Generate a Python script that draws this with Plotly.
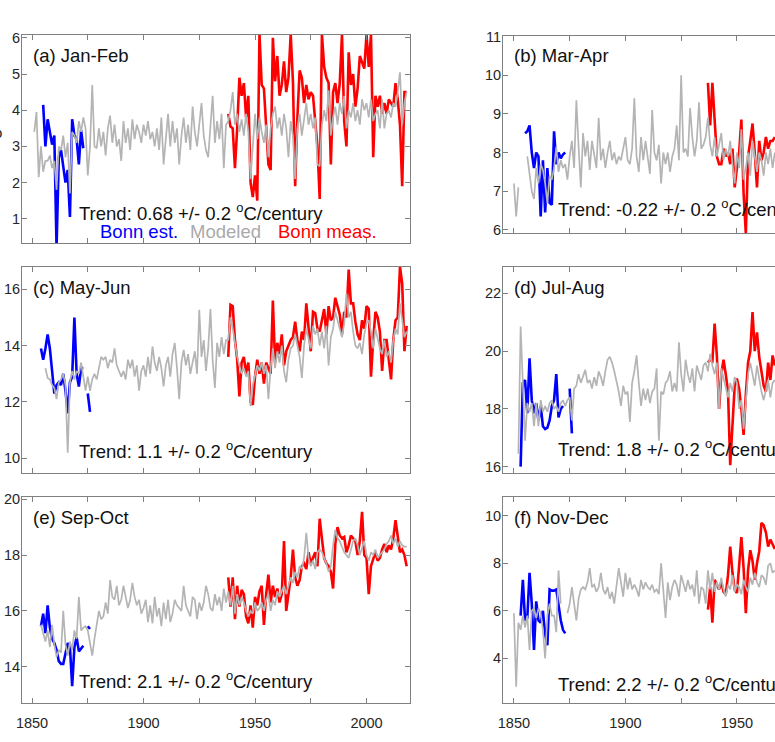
import plotly.graph_objects as go

N = None
YEARS_MOD = list(range(1850, 2019))
YEARS_EST = list(range(1852, 1877))
YEARS_MEAS = list(range(1937, 2019))

# ---------------- (a) Jan-Feb ----------------
mod_a = [N, 3.4, 3.95, 2.15, 3.0, 2.3, 2.6, 2.6, 2.75, 2.4,
         2.6, 1.8, 3.0, 2.9, 3.3, 2.7, 3.1, 1.7, 3.4, 3.3,
         3.1, 3.7, 3.4, 3.8, 3.5, 2.2, 3.0, 4.7, 3.0, 2.95,
         3.5, 3.0, 3.4, 2.75, 3.5, 3.85, 3.1, 3.6, 3.0, 3.2,
         2.6, 3.7, 3.1, 3.5, 2.9, 3.75, 3.2, 3.6, 3.4, 3.1,
         3.6, 3.3, 3.7, 3.2, 3.4, 3.0, 3.5, 2.9, 3.8, 2.5,
         3.2, 3.9, 3.0, 3.7, 3.1, 3.5, 2.5, 3.3, 3.8, 3.1,
         3.6, 2.9, 4.1, 3.4, 3.0, 3.6, 4.2, 3.3, 2.9, 2.7,
         3.5, 4.4, 3.1, 3.7, 3.2, 3.9, 2.4, 3.6,
         3.7, 4.0, 4.5, 3.6, 3.9, 3.4, 3.75, 3.3, 3.9, 3.4,
         2.1, 3.0, 3.9, 3.2, 3.8, 3.4, 3.1, 3.6, 2.7, 3.5,
         3.9, 4.1, 3.5, 3.8, 3.3, 3.9, 3.5, 2.7, 3.7, 3.3,
         2.1, 3.5, 3.9, 3.3, 3.7, 4.2, 3.6, 3.9, 3.5, 3.8,
         2.5, 2.45, 3.6, 4.0, 3.7, 4.55, 3.3, 3.8, 4.1, 3.6,
         4.2, 3.9, 4.4, 3.5, 4.0, 3.8, 4.2, 3.7, 4.0, 3.6,
         4.3, 4.0, 4.2, 3.8, 4.3, 3.7, 3.9, 4.0, 3.5, 4.3,
         3.5, 3.9, 4.0, 3.8, 4.2, 4.1, 4.5, 5.05, 3.6, 4.2, 4.5]
est_a = [N, N, N, 4.15, 3.0, 3.75, 3.4, 3.05, 3.3, 0.2,
         2.7, 2.9, 2.45, 2.0, 2.35, 1.05, 3.75, 3.3, 3.2, 2.5,
         3.45, 2.95, N, N, N]
meas_a = [N, 3.9, 3.55, 3.5, 2.4, 3.5, 4.9, 4.4, 4.75, 3.8,
          4.4, 2.0, 1.6, 2.2, 1.5, 6.1, 4.7, 4.6, 3.5, 2.5,
          2.35, 6.0, 4.8, 5.5, 4.4, 4.7, 5.35, 4.5, 4.9, 6.1,
          4.8, 1.9, 3.8, 5.1, 4.9, 4.2, 4.7, 4.3, 4.5, 4.4,
          3.7, 3.0, 1.55, 6.1, 5.2, 4.9, 4.75, 2.5, 4.5, 4.75,
          4.2, 4.75, 6.1, 3.7, 3.0, 5.6, 4.7, 5.0, 4.1, 4.6,
          5.5, 5.3, 5.15, 6.1, 5.2, 6.1, 2.7, 4.4, 4.1, 4.4,
          3.9, 4.2, 3.9, 4.3, 4.2, 4.1, 4.75, 4.3, 3.6, 1.9,
          4.5, 4.5]

# ---------------- (b) Mar-Apr ----------------
mod_b = [7.2, 6.35, 7.1, N, N, N, 7.9, 7.5, 7.0, 6.8,
         7.6, 7.2, 7.7, 7.55, 7.2, 6.7, 7.4, 7.3, 7.6, 8.15,
         7.5, 7.8, 7.6, 7.7, 7.3, 7.9, 8.3, 7.6, 9.35, 8.15,
         7.1, 8.5, 7.9, 8.3, 7.55, 8.3, 8.0, 7.6, 8.9, 7.8,
         8.1, 7.6, 8.0, 8.3, 7.8, 8.0, 7.7, 7.9, 7.8, 8.1,
         8.4, 7.8, 7.7, 8.1, 9.4, 7.9, 7.5, 8.4, 7.8, 8.3,
         7.9, 7.45, 9.1, 8.0, 7.8, 8.2, 7.2, 8.0, 7.7, 8.0,
         7.5, 7.9, 8.1, 8.7, 7.8, 10.0, 8.0, 8.1, 7.9, 9.15,
         8.4, 7.9, 8.3, 9.3, 8.1, 8.2, 8.4, 8.9, 8.2, 7.9,
         8.4, 7.9, 8.2, 8.5, 7.8, 8.1, 7.9, 8.3, 7.7, 7.2,
         8.0, 7.6, 8.6, 7.3, 7.6, 8.0, 7.4, 8.3, 7.9, 7.5,
         8.0, 7.8, 7.4, 8.0, 7.7, 8.1, 7.6, 8.0]
est_b = [N, N, N, 8.5, 8.55, 8.7, 8.0, 7.6, 8.0, 7.9,
         6.35, 7.8, 6.45, 7.6, 6.7, 6.65, 8.55, 7.7, 8.0, 7.85,
         7.95, 8.0, N, N, N]
meas_b = [9.8, 8.7, 9.8, 8.7, 7.9, 7.7, 7.7, 8.1, 7.9, 8.0,
          7.7, 8.1, 7.1, 7.6, 8.0, 8.85, 6.95, 5.9, 7.9, 8.3,
          8.75, 8.0, 7.1, 8.3, 7.8, 8.0, 8.4, 8.1, 8.3, 8.3, 8.4]

# ---------------- (c) May-Jun ----------------
mod_c = [N, N, N, N, N, N, 13.2, 12.85, 12.8, 12.6,
         12.5, 12.1, 12.7, 12.8, 13.0, 12.6, 10.2, 12.7, 13.1, 12.8,
         13.1, 13.0, 13.4, 12.8, 12.4, 12.9, 12.4, 12.8, 13.0, 12.8,
         13.2, 13.6, 13.5, 13.6, 13.2, 13.5, 13.4, 13.9, 13.3, 13.1,
         12.9, 13.1, 12.8, 13.5, 13.2, 13.5, 12.9, 13.3, 12.4, 13.1,
         13.3, 12.9, 13.6, 13.0, 13.97, 13.4, 13.1, 13.6, 13.2, 12.55,
         13.3, 13.6, 12.9, 13.7, 14.1, 13.2, 12.1, 13.4, 13.85, 13.3,
         13.7, 13.0, 13.4, 13.8, 13.0, 15.27, 13.6, 14.2, 13.1, 13.9,
         15.3, 13.5, 12.5, 14.1, 13.6, 14.3, 13.7, 14.2,
         14.2, 15.0, 14.6, 14.0, 13.6, 13.3, 13.0, 13.2, 12.9, 13.1,
         11.85, 12.6, 13.0, 13.3, 13.1, 13.4, 13.0, 13.3, 12.1, 13.2,
         13.9, 13.2, 13.8, 13.4, 14.0, 13.1, 12.7, 13.5, 13.9, 14.0,
         14.4, 14.0, 13.6, 12.85, 14.0, 14.6, 14.2, 13.9, 14.7, 14.4,
         14.6, 14.0, 14.5, 13.9, 14.7, 13.3, 14.3, 14.6, 15.2, 14.9,
         14.6, 14.3, 14.8, 15.85, 15.0, 15.2, 14.5, 14.0, 13.9, 14.1,
         13.7, 14.4, 14.8, 14.9, 14.5, 13.9, 14.6, 14.2, 13.9, 13.7,
         14.2, 13.6, 13.8, 13.4, 14.2, 14.6, 14.4, 15.5, 14.9, 14.3, 14.5]
est_c = [N, N, 13.9, 13.5, 13.9, 14.4, 13.9, 13.2, 12.3, 12.6,
         12.7, 12.6, 13.0, 12.4, 11.6, 12.7, 12.9, 15.0, 13.0, 12.55,
         13.2, 13.2, N, 12.3, 11.65]
meas_c = [N, 13.6, 15.45, 15.4, 14.2, 13.5, 12.2, 13.4, 13.6, 13.0,
          13.4, 12.0, 11.9, 12.9, 13.5, 13.0, 13.4, 12.65, 13.4, 13.2,
          13.0, 15.6, 13.4, 14.1, 13.7, 14.4, 13.3, 13.8, 14.0, 14.2,
          14.3, 14.85, 14.2, 13.8, 14.5, 14.2, 15.5, 14.6, 13.8, 15.2,
          15.15, 14.6, 14.5, 14.9, 15.3, 14.4, 15.4, 14.9, 15.0, 15.7,
          15.4, 15.1, 14.4, 15.2, 15.0, 16.7, 15.5, 15.5, 14.85, 14.4,
          14.2, 14.9, 14.6, 15.4, 15.3, 12.9, 14.2, 15.2, 15.0, 14.5,
          13.1, 14.2, 14.2, 13.5, 12.8, 14.2, 14.9, 15.0, 16.8, 16.2,
          13.8, 14.7]

# ---------------- (d) Jul-Aug ----------------
mod_d = [N, N, 16.45, 20.85, 18.9, 16.9, 18.2, 17.9, 18.2, 17.4,
         18.2, 17.4, 18.3, 17.9, 18.1, 17.9, 18.2, 18.3, 18.0, 18.1,
         17.9, 18.2, 18.3, 18.1, 18.3, 18.4, 17.6, 18.7, 18.8, 19.2,
         18.9, 19.1, 19.35, 18.9, 19.0, 18.7, 19.1, 18.8, 19.3, 19.1,
         18.8, 19.3, 19.7, 19.8, 19.6, 19.3, 19.0, 18.6, 18.1, 18.8,
         18.5, 18.6, 17.55, 18.9, 19.3, 19.85, 18.9, 18.1, 18.7, 18.3,
         18.7, 18.2, 18.6, 18.7, 19.4, 16.9, 18.6, 18.5, 18.9, 19.0,
         19.3, 18.6, 18.9, 18.6, 20.3, 19.2, 18.6, 19.7, 19.2, 18.9,
         19.4, 18.6, 19.5, 19.2, 19.0, 19.5, 19.6, 19.3, 19.9, 19.5,
         19.2, 19.6, 18.0, 19.4, 19.1, 18.7, 18.4, 18.9, 18.6, 19.1,
         18.9, 18.0, 18.3, 17.3, 18.4, 19.2, 19.6, 19.2, 18.8, 19.5,
         19.0, 18.6, 18.3, 18.6, 19.0, 18.4, 18.9, 19.0]
est_d = [N, 16.0, 18.9, 19.0, 17.85, 19.75, 18.3, 17.85, 18.2, 17.6,
         18.1, 17.4, 17.3, 17.35, 17.6, 18.1, 18.3, 19.2, 17.7, 18.0,
         18.1, N, N, 18.7, 17.15]
meas_d = [19.6, 19.7, 19.65, 20.95, 19.85, 18.0, 19.2, 19.7, 19.2, 18.6,
          16.05, 17.55, 18.8, 19.05, 18.7, 18.0, 17.1, 18.5, 19.6, 20.0,
          21.35, 20.0, 20.65, 19.8, 19.2, 18.8, 18.6, 19.6, 19.0, 19.85, 19.5]

# ---------------- (e) Sep-Oct ----------------
mod_e = [N, N, N, N, 15.5, 15.2, 14.9, 15.3, 14.7, 15.5,
         14.8, 14.35, 14.6, 14.5, 16.0, 14.8, 14.4, 14.9, 14.6, 15.3,
         15.0, 16.5, 15.3, 15.4, 15.45, 15.3, 14.9, 14.4, 15.0, 15.55,
         16.0, 15.7, 15.8, 16.3, 15.9, 17.1, 16.5, 16.4, 16.9, 16.2,
         16.4, 16.9, 16.5, 16.1, 16.4, 17.0, 16.5, 16.2, 16.4, 15.9,
         16.1, 16.4, 15.6, 16.2, 15.55, 16.5, 15.8, 16.1, 15.45, 16.3,
         15.7, 16.4, 15.6, 15.9, 16.4, 16.2, 16.1, 16.0, 16.9, 16.2,
         16.0, 15.8, 16.5, 16.4, 15.7, 16.3, 16.0, 16.3, 16.9, 16.6,
         16.1, 16.0, 16.6, 16.2, 16.5, 16.0, 16.8, 16.3,
         16.7, 16.2, 16.9, 15.9, 16.6, 16.2, 16.5, 16.3, 16.0, 15.8,
         16.0, 15.9, 16.3, 16.0, 16.1, 16.3, 16.0, 16.4, 16.6, 16.0,
         16.4, 16.2, 16.7, 16.5, 16.7, 16.9, 16.6, 16.9, 17.2, 17.0,
         17.4, 17.2, 17.6, 17.5, 17.9, 18.8, 17.9, 17.6, 17.8, 17.5,
         18.1, 18.2, 18.1, 17.9, 17.7, 17.4, 17.6, 18.35, 18.9, 18.6,
         18.5, 18.3, 18.1, 18.0, 17.9, 18.2, 18.5, 18.6, 18.35, 18.0,
         18.3, 18.5, 18.0, 17.8, 18.1, 18.0, 18.2, 17.9, 18.0, 18.1,
         18.2, 18.4, 18.5, 18.7, 18.4, 18.6, 18.3, 18.5, 18.35, 18.3, 18.3]
est_e = [N, N, 15.45, 15.9, 15.2, 16.2, 15.4, 15.0, 14.85, 14.6,
         14.2, 14.1, 14.1, 14.5, 14.85, 14.7, 13.3, 14.7, 15.05, 14.55,
         14.65, 14.75, N, 15.45, 15.35]
meas_e = [N, 17.2, 16.15, 17.2, 15.7, 16.9, 16.15, 16.75, 16.6, 15.8,
          15.55, 16.2, 15.4, 16.5, 16.2, 16.7, 16.9, 15.5, 16.6, 17.3,
          16.3, 16.9, 16.5, 16.8, 16.3, 16.6, 18.5, 16.0, 16.7, 17.2,
          18.2, 17.2, 16.9, 17.1, 17.6, 17.7, 17.5, 18.1, 17.7, 17.9,
          18.1, 17.6, 19.3, 18.6, 17.9, 17.7, 17.6, 17.4, 16.8, 18.4,
          19.0, 18.7, 18.6, 18.65, 18.1, 18.35, 18.7, 18.6, 18.5, 18.0,
          18.5, 19.55, 18.0, 17.9, 16.6, 17.6, 17.9, 18.1, 17.8, 17.9,
          18.2, 18.4, 18.1, 18.35, 18.2, 18.6, 19.25, 18.6, 18.1, 18.2,
          18.0, 17.6]

# ---------------- (f) Nov-Dec ----------------
mod_f = [5.9, 2.8, 5.5, 5.2, 5.8, 5.3, 5.8, 4.35, 6.0, 6.1,
         5.7, 6.1, 5.9, 5.2, 4.0, 5.8, 6.3, 5.8, 5.8, 5.1,
         7.7, 6.3, N, N, 5.9, 6.3, 7.0, 6.3, 5.6, 6.5,
         6.9, 7.0, 6.9, 7.2, 7.8, 7.0, 7.1, 6.8, 7.0, 7.6,
         6.9, 6.7, 7.0, 6.5, 6.8, 6.3, 7.2, 7.8, 7.2, 6.6,
         7.6, 6.9, 7.4, 6.9, 7.1, 6.9, 6.6, 7.3, 6.9, 7.2,
         7.0, 6.9, 7.1, 6.8, 6.9, 6.7, 8.0, 6.9, 5.7, 7.2,
         6.45, 7.0, 7.3, 7.1, 6.6, 7.5, 7.2, 6.8, 7.3, 6.9,
         7.1, 6.6, 7.7, 6.3, 7.0, 6.9, 6.3, 7.7, 6.9, 7.6,
         6.8, 7.2, 6.9, 7.4, 6.9, 6.6, 7.1, 6.9, 7.5, 6.8,
         7.1, 7.0, 6.7, 7.3, 7.0, 6.8, 7.4, 7.1, 7.6, 7.2,
         7.0, 7.5, 7.4, 7.1, 7.9, 8.0, 7.6, 7.7]
est_f = [N, 5.8, 7.3, 5.6, 5.7, 7.6, 6.3, 4.35, 6.4, 5.6,
         5.5, 6.0, 5.0, 4.55, 6.9, 6.85, 6.85, 6.9, 6.2, 5.6,
         5.2, 5.05, N, N, N]
meas_f = [6.05, 7.0, 5.5, 7.3, 7.1, 6.9, 7.2, 6.8, 6.7, 7.5,
          8.7, 7.6, 6.9, 6.75, 7.9, 9.1, 7.8, 5.9, 7.7, 8.55,
          8.1, 7.3, 8.0, 8.5, 9.7, 9.6, 9.3, 8.7, 9.0, 8.8, 8.6]

PANEL_LABELS = ["(a) Jan-Feb", "(b) Mar-Apr", "(c) May-Jun",
                "(d) Jul-Aug", "(e) Sep-Oct", "(f) Nov-Dec"]
TRENDS = ["0.68", "-0.22", "1.1", "1.8", "2.1", "2.2"]
LEGEND_NAMES = ["Bonn est.", "Modeled", "Bonn meas."]
X_TICKS = [1850, 1900, 1950, 2000]
X_MINOR_STEP = 25
Y_TICKS = [[1, 2, 3, 4, 5, 6], [6, 7, 8, 9, 10, 11], [10, 12, 14, 16],
           [16, 18, 20, 22], [14, 16, 18, 20], [4, 6, 8, 10]]
Y_RANGES = [[0.33, 6.08], [5.92, 11.02], [9.48, 16.79],
            [15.78, 22.91], [12.7, 20.08], [2.12, 10.79]]

MODS = [mod_a, mod_b, mod_c, mod_d, mod_e, mod_f]
ESTS = [est_a, est_b, est_c, est_d, est_e, est_f]
MEAS = [meas_a, meas_b, meas_c, meas_d, meas_e, meas_f]

W, H = 775, 742
PX_PER_YR = (410 - 22) / 174.0
# panel boxes in page pixels: (left, right, top, bottom)
BOXES = [(22, 410, 35, 243), (503, 775, 35.7, 233),
         (22, 410, 267, 473), (503, 775, 267, 473),
         (22, 410, 497, 703), (503, 775, 497, 703)]


def px_x(v):
    return v / W


def px_y(v):
    return 1 - v / H


C_EST = "#0000FF"
C_MOD = "#B4B4B4"
C_MEAS = "#FF0000"
AX_COL = "#808080"
TXT = "#262626"
FONT = "Arial, Liberation Sans, sans-serif"
TXT_SIZE = 18.5

fig = go.Figure()
layout = dict(width=W, height=H, margin=dict(l=0, r=0, t=0, b=0, pad=0, autoexpand=False),
              template="none",
              paper_bgcolor="white", plot_bgcolor="white", showlegend=False,
              font=dict(family=FONT, color=TXT))
annotations = []

for i in range(6):
    n = "" if i == 0 else str(i + 1)
    xa, ya = "x" + n, "y" + n
    left, right, top, bottom = BOXES[i]
    right_col = (i % 2 == 1)
    x0 = 1845.5 if not right_col else 1845.1
    x1 = x0 + (right - left) / PX_PER_YR

    ym = MODS[i]
    fig.add_trace(go.Scatter(x=YEARS_EST[:len(ESTS[i])], y=ESTS[i], mode="lines",
                             line=dict(color=C_EST, width=2.6), xaxis=xa, yaxis=ya,
                             connectgaps=False))
    fig.add_trace(go.Scatter(x=YEARS_MEAS[:len(MEAS[i])], y=MEAS[i], mode="lines",
                             line=dict(color=C_MEAS, width=2.6), xaxis=xa, yaxis=ya,
                             connectgaps=False))
    fig.add_trace(go.Scatter(x=YEARS_MOD[:len(ym)], y=ym, mode="lines",
                             line=dict(color=C_MOD, width=1.7), xaxis=xa, yaxis=ya,
                             connectgaps=False))

    layout["xaxis" + n] = dict(
        domain=[px_x(left), px_x(right)], range=[x0, x1], anchor=ya,
        automargin=False,
        showline=True, linecolor=AX_COL, linewidth=1, mirror="ticks",
        ticks="inside", ticklen=5, tickcolor=AX_COL, tickwidth=1,
        tickvals=X_TICKS, showgrid=False, zeroline=False,
        minor=dict(ticks="inside", ticklen=5, tickcolor=AX_COL, tickwidth=1,
                   tick0=1850, dtick=X_MINOR_STEP, showgrid=False),
        ticklabelstandoff=7,
        showticklabels=(i >= 4), tickfont=dict(size=14.5, color=TXT, family=FONT))
    layout["yaxis" + n] = dict(
        domain=[px_y(bottom), px_y(top)], range=Y_RANGES[i], anchor=xa,
        automargin=False,
        showline=True, linecolor=AX_COL, linewidth=1,
        mirror=("ticks" if not right_col else False),
        ticks="inside", ticklen=5, tickcolor=AX_COL, tickwidth=1,
        tickvals=Y_TICKS[i], showgrid=False, zeroline=False,
        ticklabelstandoff=-2,
        tickfont=dict(size=14.5, color=TXT, family=FONT))

    annotations.append(dict(text=PANEL_LABELS[i], xref="paper", yref="paper",
                            x=px_x(left + 9), y=px_y(top + 20), xanchor="left",
                            yanchor="middle", showarrow=False,
                            font=dict(size=TXT_SIZE, color="#111111", family=FONT)))
    trend_x = 77 if not right_col else 556
    trend_y = [212, 208, 450, 448, 680, 683][i]
    annotations.append(dict(text="Trend: " + TRENDS[i] + " +/- 0.2 <sup>o</sup>C/century",
                            xref="paper", yref="paper", x=px_x(trend_x),
                            y=px_y(trend_y), xanchor="left", yanchor="middle",
                            showarrow=False,
                            font=dict(size=TXT_SIZE, color="#111111", family=FONT)))

# legend texts in panel (a)
for name, col, px in zip(LEGEND_NAMES, [C_EST, "#AAAAAA", C_MEAS], [98, 188, 276]):
    annotations.append(dict(text=name, xref="paper", yref="paper", x=px_x(px),
                            y=px_y(231), xanchor="left", yanchor="middle",
                            showarrow=False, font=dict(size=TXT_SIZE, color=col, family=FONT)))

# clipped remnant of the y-axis label at the far left edge
annotations.append(dict(text="o", xref="paper", yref="paper", x=px_x(4),
                        y=px_y(133), xanchor="right", yanchor="middle",
                        showarrow=False, font=dict(size=15, color=TXT, family=FONT)))

layout["annotations"] = annotations
fig.update_layout(**layout)
# remove the default 8px page margin so the 775x742 figure fills the window exactly
fig.write_html("out.html", config={"displayModeBar": False, "staticPlot": True},
               post_script="document.body.style.margin='0px';")
